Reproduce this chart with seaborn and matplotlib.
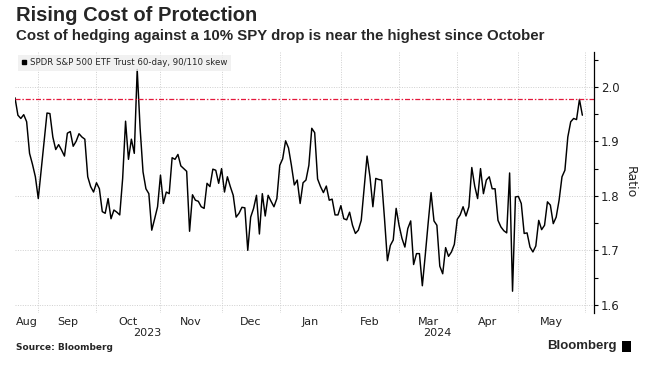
import matplotlib
matplotlib.use("Agg")
import matplotlib.pyplot as plt
import matplotlib.ticker as mticker
import matplotlib.transforms as mtransforms
from matplotlib.lines import Line2D
from matplotlib.patches import Rectangle
import seaborn as sns
import pandas as pd

# SPDR S&P 500 ETF Trust 60-day 90/110 skew, one value per trading day
skew = [
    1.980, 1.948, 1.942, 1.949, 1.936, 1.878, 1.858, 1.835, 1.795, 1.847,
    1.900, 1.952, 1.951, 1.908, 1.885, 1.894, 1.884, 1.873, 1.915, 1.918,
    1.891, 1.900, 1.914, 1.908, 1.904, 1.835, 1.817, 1.807, 1.824, 1.813,
    1.771, 1.768, 1.795, 1.758, 1.774, 1.770, 1.765, 1.832, 1.937, 1.867,
    1.904, 1.878, 2.032, 1.924, 1.844, 1.813, 1.804, 1.737, 1.758, 1.780,
    1.838, 1.786, 1.807, 1.804, 1.870, 1.867, 1.876, 1.855, 1.850, 1.845,
    1.735, 1.802, 1.792, 1.790, 1.780, 1.777, 1.823, 1.817, 1.849, 1.847,
    1.823, 1.850, 1.807, 1.835, 1.817, 1.801, 1.761, 1.768, 1.779, 1.778,
    1.700, 1.761, 1.777, 1.801, 1.730, 1.804, 1.763, 1.801, 1.790, 1.780,
    1.795, 1.856, 1.868, 1.901, 1.888, 1.856, 1.820, 1.829, 1.786, 1.824,
    1.829, 1.856, 1.924, 1.916, 1.831, 1.817, 1.806, 1.818, 1.792, 1.794,
    1.765, 1.765, 1.782, 1.758, 1.756, 1.770, 1.746, 1.731, 1.737, 1.755,
    1.813, 1.873, 1.835, 1.780, 1.832, 1.830, 1.829, 1.758, 1.681, 1.709,
    1.719, 1.777, 1.746, 1.722, 1.706, 1.740, 1.754, 1.674, 1.694, 1.694,
    1.635, 1.691, 1.750, 1.806, 1.754, 1.746, 1.671, 1.657, 1.705, 1.689,
    1.697, 1.711, 1.757, 1.765, 1.780, 1.763, 1.780, 1.852, 1.818, 1.795,
    1.850, 1.804, 1.829, 1.835, 1.813, 1.813, 1.755, 1.743, 1.736, 1.732,
    1.842, 1.625, 1.798, 1.799, 1.786, 1.731, 1.732, 1.706, 1.697, 1.708,
    1.755, 1.738, 1.746, 1.789, 1.783, 1.749, 1.761, 1.792, 1.835, 1.847,
    1.908, 1.936, 1.942, 1.940, 1.977, 1.948,
]

# meses y posicion (indice de dia habil) donde empieza cada uno
months = ["Aug", "Sep", "Oct", "Nov", "Dec", "Jan", "Feb", "Mar", "Apr", "May"]
month_starts = [0, 8, 28, 50, 71, 91, 112, 132, 152, 173, 196]
years = ["2023", "2024"]
year_edges = [0, 91, 199]
ref_level = 1.978

df = pd.DataFrame({"dia": range(len(skew)), "skew": skew})

sns.set_style("white")
plt.rcParams["font.family"] = ["DejaVu Sans"]

fig = plt.figure(figsize=(6.5, 3.69), dpi=100)
ax = fig.add_axes([15 / 650, 1 - 313 / 369, 579 / 650, (313 - 52) / 369])

sns.lineplot(data=df, x="dia", y="skew", color="black", linewidth=1.05,
             ax=ax, legend=False)
ax.axhline(ref_level, color="#e4183c", linewidth=0.9,
           linestyle=(0, (4, 1.5, 1.2, 1.5)))

ax.set_xlim(0, 199)
ax.set_ylim(1.585, 2.064)

# eje x: lineas en el cambio de mes, nombre del mes en el centro
ax.set_xticks(month_starts[1:])
ax.set_xticklabels([])
centers = [(a + b) / 2 for a, b in zip(month_starts[:-1], month_starts[1:])]
ax.set_xticks(centers, minor=True)
ax.set_xticklabels(months, minor=True)
ax.tick_params(axis="x", which="both", length=0, pad=3, labelsize=8,
               colors="#222222")

trans = mtransforms.blended_transform_factory(ax.transData, ax.transAxes)
for y_lab, a, b in zip(years, year_edges[:-1], year_edges[1:]):
    ax.text((a + b) / 2, -0.077, y_lab, transform=trans, ha="center",
            va="center", fontsize=8, color="#222222")

# eje y a la derecha
ax.yaxis.tick_right()
ax.yaxis.set_label_position("right")
ax.yaxis.set_major_locator(mticker.MultipleLocator(0.1))
ax.yaxis.set_minor_locator(mticker.MultipleLocator(0.05))
ax.yaxis.set_major_formatter(mticker.FormatStrFormatter("%.1f"))
ax.tick_params(axis="y", which="both", direction="out", length=3, width=0.8,
               color="black", labelsize=8.5, pad=2, labelcolor="#222222")
ax.set_ylabel("Ratio", rotation=270, labelpad=12, fontsize=9)
ax.set_xlabel("")

ax.grid(True, which="major", color="#cfcfcf", linestyle=(0, (1, 1.5)),
        linewidth=0.7)
for side in ["left", "top", "bottom"]:
    ax.spines[side].set_visible(False)
ax.spines["right"].set_color("black")
ax.spines["right"].set_linewidth(0.9)

handle = Line2D([], [], marker="s", color="black", linestyle="none",
                markersize=3.5)
leg = ax.legend([handle], ["SPDR S&P 500 ETF Trust 60-day, 90/110 skew"],
                loc="upper left", bbox_to_anchor=(0, 1.0), fontsize=6.2,
                frameon=True, fancybox=False, borderaxespad=0.3,
                handlelength=0.6, handletextpad=0.4, borderpad=0.45)
leg.get_frame().set_facecolor("#eeeeee")
leg.get_frame().set_edgecolor("none")

# titulos
fig.text(16 / 650, 1 - 6 / 369, "Rising Cost of Protection",
         fontsize=14.5, fontweight="bold", va="top",
         family=["Liberation Sans", "DejaVu Sans"])
fig.text(16 / 650, 1 - 29 / 369,
         "Cost of hedging against a 10% SPY drop is near the highest since October",
         fontsize=10.8, fontweight="bold", va="top",
         family=["Liberation Sans", "DejaVu Sans"])

fig.text(16 / 650, 1 - 347 / 369, "Source: Bloomberg", fontsize=6.5,
         fontweight="bold", va="center")
fig.text(617 / 650, 1 - 346 / 369, "Bloomberg", fontsize=9.5,
         fontweight="bold", va="center", ha="right",
         family=["Liberation Sans", "DejaVu Sans"])
fig.patches.append(Rectangle((622 / 650, 1 - 352 / 369), 9 / 650, 11 / 369,
                             transform=fig.transFigure, facecolor="black",
                             edgecolor="none"))

fig.savefig("out.png", dpi=100)
